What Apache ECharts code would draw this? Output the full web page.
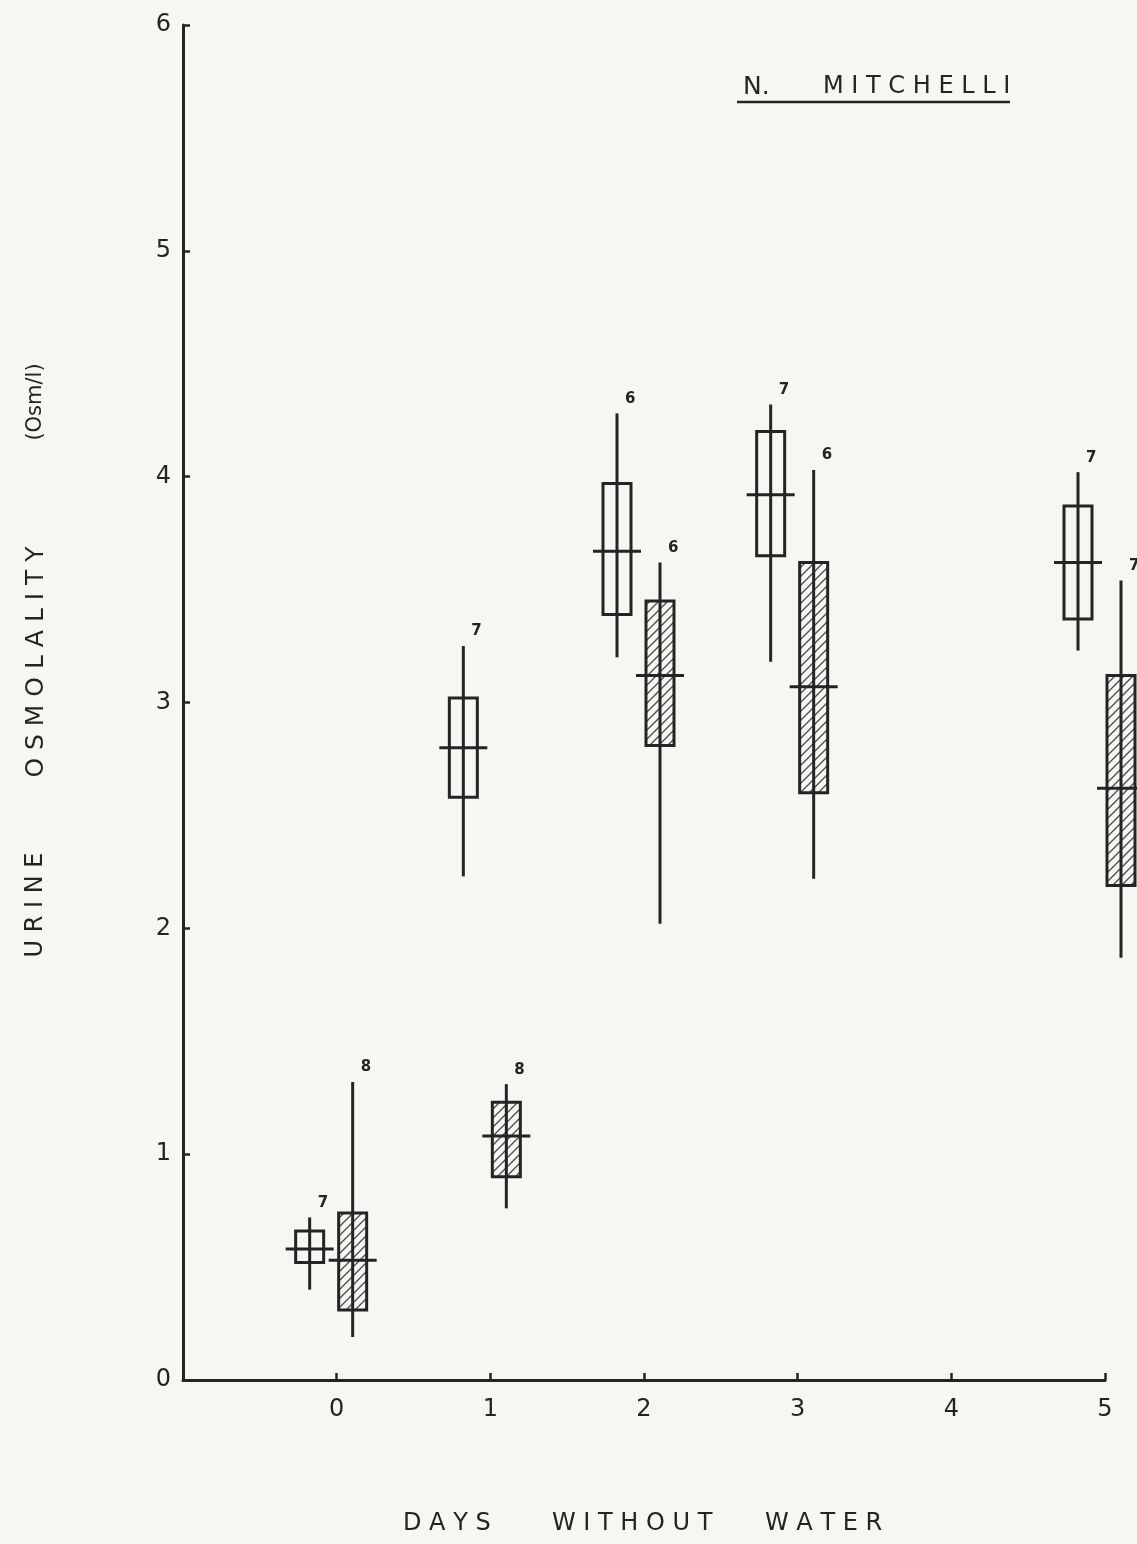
<!DOCTYPE html>
<html><head><meta charset="utf-8">
<script src="https://cdn.jsdelivr.net/npm/echarts@6/dist/echarts.min.js"></script>
<style>html,body{margin:0;padding:0;background:#f6f6f3}#c{width:1137px;height:1544px}</style>
</head><body><div id="c"></div>
<script>
// ---- data ----
const days = [0, 1, 2, 3, 5];
const xTicks = [0, 1, 2, 3, 4, 5];
const yTicks = [0, 1, 2, 3, 4, 5, 6];

// open boxes
const openMin     = [0.40, 2.23, 3.20, 3.18, 3.23];
const openBoxLow  = [0.52, 2.58, 3.39, 3.65, 3.37];
const openMean    = [0.58, 2.80, 3.67, 3.92, 3.62];
const openBoxHigh = [0.66, 3.02, 3.97, 4.20, 3.87];
const openMax     = [0.72, 3.25, 4.28, 4.32, 4.02];
const openN       = [7, 7, 6, 7, 7];

// hatched boxes
const hatchMin     = [0.19, 0.76, 2.02, 2.22, 1.87];
const hatchBoxLow  = [0.31, 0.90, 2.81, 2.60, 2.19];
const hatchMean    = [0.53, 1.08, 3.12, 3.07, 2.62];
const hatchBoxHigh = [0.74, 1.23, 3.45, 3.62, 3.12];
const hatchMax     = [1.32, 1.31, 3.62, 4.03, 3.54];
const hatchN       = [8, 8, 6, 6, 7];

const INK = '#242424';
const FONT = 'DejaVu Sans';

// hatch pattern
const P = 9;
const pc = document.createElement('canvas');
pc.width = P; pc.height = P;
const g = pc.getContext('2d');
g.strokeStyle = '#4a4a4a'; g.lineWidth = 1.3;
g.beginPath();
g.moveTo(-1, P + 1); g.lineTo(P + 1, -1);
g.moveTo(-1, 1); g.lineTo(1, -1);
g.moveTo(P - 1, P + 1); g.lineTo(P + 1, P - 1);
g.stroke();

function makeSeries(name, offsetPx, lo, bLo, mean, bHi, hi, n, hatched) {
  const data = days.map((d, i) => [d, hi[i], bHi[i], mean[i], bLo[i], lo[i], n[i]]);
  return {
    type: 'custom', name, data, clip: false, silent: true,
    encode: { x: 0, y: [1, 2, 3, 4, 5] },
    renderItem(params, api) {
      const x = api.coord([api.value(0), 0])[0] + offsetPx;
      const yHi = api.coord([0, api.value(1)])[1];
      const yBHi = api.coord([0, api.value(2)])[1];
      const yMean = api.coord([0, api.value(3)])[1];
      const yBLo = api.coord([0, api.value(4)])[1];
      const yLo = api.coord([0, api.value(5)])[1];
      const hw = 14, tw = 24;
      return {
        type: 'group',
        children: [
          { type: 'rect', shape: { x: x - hw, y: yBHi, width: 2 * hw, height: yBLo - yBHi },
            style: { fill: hatched ? { image: pc, repeat: 'repeat' } : 'rgba(0,0,0,0)', stroke: INK, lineWidth: 3 } },
          { type: 'line', shape: { x1: x, y1: yHi, x2: x, y2: yLo }, style: { stroke: INK, lineWidth: 3 } },
          { type: 'line', shape: { x1: x - tw, y1: yMean, x2: x + tw, y2: yMean }, style: { stroke: INK, lineWidth: 3 } },
          { type: 'text', x: x + 8, y: yHi - 7,
            style: { text: String(api.value(6)), fill: INK, font: 'bold 15px ' + FONT, textAlign: 'left', textVerticalAlign: 'bottom' } }
        ]
      };
    }
  };
}

const chart = echarts.init(document.getElementById('c'));
chart.setOption({
  backgroundColor: '#f6f6f3',
  animation: false,
  grid: { left: 183, right: 32, top: 25, bottom: 164 },
  xAxis: {
    type: 'value', min: -1, max: 5, interval: 1,
    axisLine: { onZero: false, lineStyle: { color: INK, width: 3 } },
    axisTick: { inside: true, length: 7, lineStyle: { color: INK, width: 2.5 } },
    axisLabel: { formatter: v => xTicks.includes(v) ? String(v) : '', fontSize: 24, fontFamily: FONT, color: INK, margin: 18 },
    splitLine: { show: false }
  },
  yAxis: {
    type: 'value', min: 0, max: 6, interval: 1,
    axisLine: { show: true, onZero: false, lineStyle: { color: INK, width: 3 } },
    axisTick: { show: true, inside: true, length: 7, lineStyle: { color: INK, width: 2.5 } },
    axisLabel: { formatter: v => yTicks.includes(v) ? String(v) : '', fontSize: 24, fontFamily: FONT, color: INK, margin: 12 },
    splitLine: { show: false }
  },
  graphic: [
    { type: 'text', left: 743, top: 75, style: { text: 'N.', font: '25px ' + FONT, fill: INK } },
    { type: 'text', left: 823, top: 75, style: { text: 'M I T C H E L L I', font: '24px ' + FONT, fill: INK } },
    { type: 'line', shape: { x1: 737, y1: 102, x2: 1010, y2: 102 }, style: { stroke: INK, lineWidth: 2.5 } },
    { type: 'text', left: 403, top: 1512, style: { text: 'D A Y S', font: '24px ' + FONT, fill: INK } },
    { type: 'text', left: 552, top: 1512, style: { text: 'W I T H O U T', font: '24px ' + FONT, fill: INK } },
    { type: 'text', left: 765, top: 1512, style: { text: 'W A T E R', font: '24px ' + FONT, fill: INK } },
    { type: 'text', x: 36, y: 905, rotation: Math.PI / 2,
      style: { text: 'U R I N E', font: '24px ' + FONT, fill: INK, textAlign: 'center', textVerticalAlign: 'middle' } },
    { type: 'text', x: 36, y: 662, rotation: Math.PI / 2,
      style: { text: 'O S M O L A L I T Y', font: '25px ' + FONT, fill: INK, textAlign: 'center', textVerticalAlign: 'middle' } },
    { type: 'text', x: 36, y: 402, rotation: Math.PI / 2,
      style: { text: '(Osm/l)', font: '21px ' + FONT, fill: INK, textAlign: 'center', textVerticalAlign: 'middle' } }
  ],
  series: [
    makeSeries('open', -27, openMin, openBoxLow, openMean, openBoxHigh, openMax, openN, false),
    makeSeries('hatched', 16, hatchMin, hatchBoxLow, hatchMean, hatchBoxHigh, hatchMax, hatchN, true)
  ]
});
</script>
</body></html>
